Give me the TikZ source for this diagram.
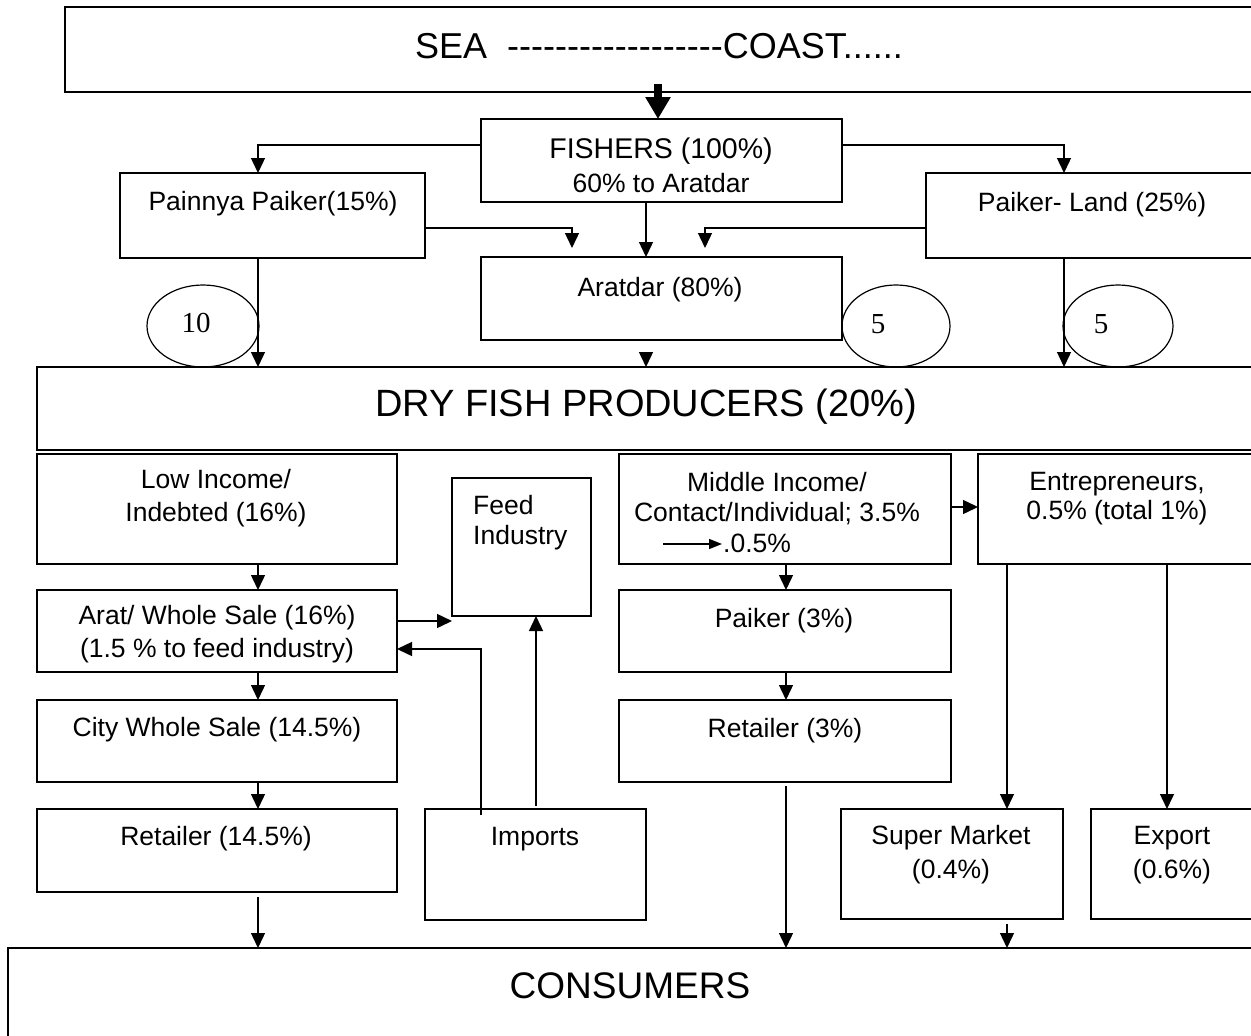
\documentclass[tikz,border=0pt]{standalone}
\usepackage{fontspec}
\setmainfont{Liberation Sans}
\newfontfamily\serifdigits{Liberation Serif}
\usetikzlibrary{arrows.meta,shapes.geometric,calc}
\newcommand\hyp{\mbox{-}}
\tikzset{
 box/.style={draw, line width=1.7pt, inner sep=0pt, outer sep=0pt, anchor=north west},
 lab/.style={anchor=base, inner sep=0pt, font=\fontsize{26.5}{30}\selectfont},
 labw/.style={anchor=base west, inner sep=0pt, font=\fontsize{26.5}{30}\selectfont},
 conn/.style={line width=1.4pt, -{Triangle[length=15pt,width=14pt]}},
 oval/.style={draw, ellipse, line width=1.2pt, inner sep=0pt},
 num/.style={anchor=base, inner sep=0pt, font=\serifdigits\fontsize{29}{30}\selectfont},
}
\begin{document}
\begin{tikzpicture}[x=1pt,y=-1pt]
\useasboundingbox (0,0) rectangle (1251,1036);
\clip (0,0) rectangle (1251,1036);
\fill[white] (0,0) rectangle (1251,1036);
% helper coordinates
\foreach \v in {258,481,536,572,646,658,705,786,1007,1064,1167}{\coordinate (x\v) at (\v,0);}
\foreach \v in {145,228,507,621,649}{\coordinate (y\v) at (0,\v);}
% boxes
\node[box, minimum width=1197pt, minimum height=85pt] (sea) at (65,7) {};
\node[box, minimum width=361pt, minimum height=83pt] (fish) at (481,119) {};
\node[box, minimum width=305pt, minimum height=85pt] (pp) at (120,173) {};
\node[box, minimum width=336pt, minimum height=85pt] (pl) at (926,173) {};
\node[box, minimum width=361pt, minimum height=83pt] (arat) at (481,257) {};
\node[box, minimum width=1225pt, minimum height=83pt] (dry) at (37,367) {};
\node[box, minimum width=360pt, minimum height=110pt] (low) at (37,454) {};
\node[box, minimum width=360pt, minimum height=82pt] (arw) at (37,590) {};
\node[box, minimum width=360pt, minimum height=82pt] (city) at (37,700) {};
\node[box, minimum width=360pt, minimum height=83pt] (ret1) at (37,809) {};
\node[box, minimum width=139pt, minimum height=138pt] (feed) at (452,478) {};
\node[box, minimum width=221pt, minimum height=111pt] (imp) at (425,809) {};
\node[box, minimum width=332pt, minimum height=110pt] (mid) at (619,454) {};
\node[box, minimum width=332pt, minimum height=82pt] (paik) at (619,590) {};
\node[box, minimum width=332pt, minimum height=82pt] (ret2) at (619,700) {};
\node[box, minimum width=284pt, minimum height=110pt] (ent) at (978,454) {};
\node[box, minimum width=222pt, minimum height=110pt] (sm) at (841,809) {};
\node[box, minimum width=171pt, minimum height=110pt] (exp) at (1091,809) {};
\node[box, minimum width=1254pt, minimum height=97pt] (cons) at (8,948) {};
% ellipses
\node[oval, minimum width=112pt, minimum height=82pt] (e10) at (203,326) {};
\node[oval, minimum width=108pt, minimum height=82pt] (e5a) at (896,326) {};
\node[oval, minimum width=110pt, minimum height=82pt] (e5b) at (1118,326) {};
\node[num] (t10) at (196,332) {10};
\node[num] (t5a) at (878,333) {5};
\node[num] (t5b) at (1101,333) {5};
% texts
\node[lab, font=\fontsize{36}{38}\selectfont] (tsea) at (659,58) {SEA\ \ \hyp\hyp\hyp\hyp\hyp\hyp\hyp\hyp\hyp\hyp\hyp\hyp\hyp\hyp\hyp\hyp\hyp\hyp COAST......};
\node[lab, font=\fontsize{28.5}{30}\selectfont] (tf1) at (661,158) {FISHERS (100\%)};
\node[lab] (tf2) at (661,192) {60\% to Aratdar};
\node[lab] (tpp) at (273,210) {Painnya Paiker(15\%)};
\node[lab] (tpl) at (1092,211) {Paiker- Land (25\%)};
\node[lab] (tarat) at (660,296) {Aratdar (80\%)};
\node[lab, font=\fontsize{38}{40}\selectfont] (tdry) at (646,416) {DRY FISH PRODUCERS (20\%)};
\node[lab] (tlow1) at (216,488) {Low Income/};
\node[lab] (tlow2) at (216,521) {Indebted (16\%)};
\node[lab] (tarw1) at (217,624) {Arat/ Whole Sale (16\%)};
\node[lab] (tarw2) at (217,657) {(1.5 \% to feed industry)};
\node[labw] (tfeed1) at (473,514) {Feed};
\node[labw] (tfeed2) at (473,544) {Industry};
\node[lab] (tcity) at (217,736) {City Whole Sale (14.5\%)};
\node[lab] (tret1) at (216,845) {Retailer (14.5\%)};
\node[lab] (timp) at (535,845) {Imports};
\node[lab] (tmid1) at (777,491) {Middle Income/};
\node[lab] (tmid2) at (777,521) {Contact/Individual; 3.5\%};
\node[labw] (tmid3) at (723,552) {.0.5\%};
\node[lab] (tpaik) at (784,627) {Paiker (3\%)};
\node[lab] (tret2) at (785,737) {Retailer (3\%)};
\node[lab] (tent1) at (1117,490) {Entrepreneurs,};
\node[lab] (tent2) at (1117,519) {0.5\% (total 1\%)};
\node[lab] (tsm1) at (951,844) {Super Market};
\node[lab] (tsm2) at (951,878) {(0.4\%)};
\node[lab] (texp1) at (1172,844) {Export};
\node[lab] (texp2) at (1172,878) {(0.6\%)};
\node[lab, font=\fontsize{37}{40}\selectfont] (tcons) at (630,998) {CONSUMERS};
% connectors
\draw[line width=8pt, -{Triangle[length=22pt,width=24pt]}, shorten <=-8pt] (sea.south -| x658) -- (fish.north -| x658);
\draw[conn] (fish.west |- y145) -| (pp.north -| x258);
\draw[conn] (fish.east |- y145) -| (pl.north -| x1064);
\draw[conn, shorten >=9pt] (pp.east |- y228) -| (arat.north -| x572);
\draw[conn, shorten >=9pt] (pl.west |- y228) -| (arat.north -| x705);
\draw[conn] (fish.south -| x646) -- (arat.north -| x646);
\draw[conn, shorten <=12pt] (arat.south -| x646) -- (dry.north -| x646);
\draw[conn] (pp.south -| x258) -- (dry.north -| x258);
\draw[conn] (pl.south -| x1064) -- (dry.north -| x1064);
\draw[conn] (low.south -| x258) -- (arw.north -| x258);
\draw[conn] (arw.south -| x258) -- (city.north -| x258);
\draw[conn] (city.south -| x258) -- (ret1.north -| x258);
\draw[conn, shorten <=5pt] (ret1.south -| x258) -- (cons.north -| x258);
\draw[conn] (arw.east |- y621) -- (feed.west |- y621);
\draw[conn, shorten <=-6pt] (imp.north -| x481) |- (arw.east |- y649);
\draw[conn, shorten <=3pt] (imp.north -| x536) -- (feed.south -| x536);
\draw[conn] (mid.east |- y507) -- (ent.west |- y507);
\draw[conn] (mid.south -| x786) -- (paik.north -| x786);
\draw[conn] (paik.south -| x786) -- (ret2.north -| x786);
\draw[conn, shorten <=4pt] (ret2.south -| x786) -- (cons.north -| x786);
\draw[conn] (ent.south -| x1007) -- (sm.north -| x1007);
\draw[conn] (ent.south -| x1167) -- (exp.north -| x1167);
\draw[conn, shorten <=5pt] (sm.south -| x1007) -- (cons.north -| x1007);
\coordinate (ma1) at (663,544);
\coordinate (ma2) at (722,544);
\draw[line width=1.2pt, -{Triangle[length=13pt,width=10pt]}] (ma1) -- (ma2);
\end{tikzpicture}
\end{document}
